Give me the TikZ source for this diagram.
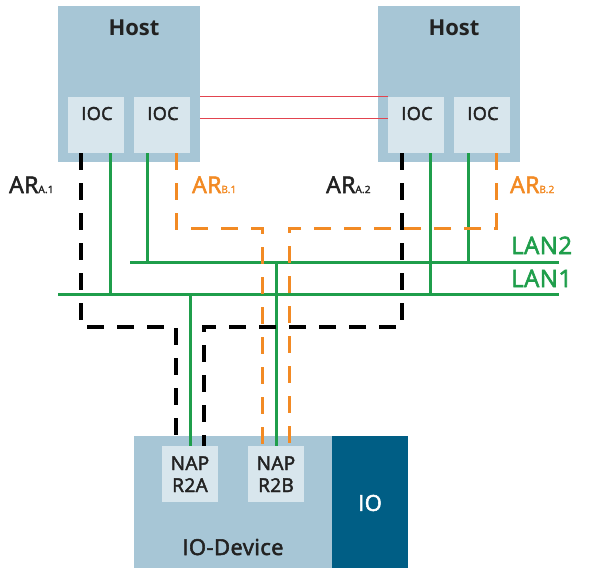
\documentclass[tikz,border=0pt]{standalone}
\usepackage{fontspec}
\setmainfont{Open Sans}
\newfontfamily\medfont{Open Sans}[FakeBold=2.5,LetterSpace=2]
\definecolor{hostblue}{HTML}{A7C6D6}
\definecolor{iocblue}{HTML}{D8E6ED}
\definecolor{iodark}{HTML}{005E85}
\definecolor{langreen}{HTML}{1F9E4B}
\definecolor{arorange}{HTML}{F28A24}
\definecolor{redline}{HTML}{E2444F}
\definecolor{txtdark}{HTML}{222222}
\tikzset{
  box/.style={draw=none, inner sep=0pt, outer sep=0pt, anchor=north west},
  hostbox/.style={box, fill=hostblue, minimum width=142pt, minimum height=156pt},
  iocbox/.style={box, fill=iocblue, minimum width=56pt, minimum height=56pt},
  devbox/.style={box, fill=hostblue, minimum width=198pt, minimum height=132pt},
  iobox/.style={box, fill=iodark, minimum width=76pt, minimum height=132pt},
  lanline/.style={draw=langreen, line width=3pt},
  redwire/.style={draw=redline, line width=1pt},
  blackdash/.style={draw=black, line width=3.2pt, dash pattern=on 17pt off 13pt},
  orangedash/.style={draw=arorange, line width=3pt, dash pattern=on 17pt off 13pt},
  hosttxt/.style={inner sep=0pt, anchor=base, font=\fontsize{22}{22}\selectfont\bfseries, text=txtdark},
  ioctxt/.style={inner sep=0pt, anchor=base, font=\medfont\fontsize{18}{18}\selectfont, text=txtdark},
  artxt/.style={inner sep=0pt, anchor=base west},
  lantxt/.style={inner sep=0pt, anchor=base west, font=\medfont\fontsize{24}{24}\selectfont, text=langreen},
}
\newcommand{\arlab}[2]{{\medfont\fontsize{23}{23}\selectfont AR}{\medfont\fontsize{10}{10}\selectfont #1.#2}}
\begin{document}
\begin{tikzpicture}[x=1pt,y=-1pt]
\useasboundingbox (0,0) rectangle (591,575);
% hosts
\node[hostbox] (hostL) at (58,6) {};
\node[hostbox] (hostR) at (378,6) {};
\node[iocbox] (iocL1) at (68,97) {};
\node[iocbox] (iocL2) at (134,97) {};
\node[iocbox] (iocR1) at (388,97) {};
\node[iocbox] (iocR2) at (454,97) {};
\node[hosttxt] (hostLt) at (134,36) {Host};
\node[hosttxt] (hostRt) at (454,36) {Host};
\node[ioctxt] (iocL1t) at (97,120) {IOC};
\node[ioctxt] (iocL2t) at (163,120) {IOC};
\node[ioctxt] (iocR1t) at (417,120) {IOC};
\node[ioctxt] (iocR2t) at (483,120) {IOC};
% device
\node[devbox] (dev) at (134,436) {};
\node[iobox] (io) at (332,436) {};
\node[iocbox] (napA) at (162,446) {};
\node[iocbox] (napB) at (248,446) {};
\node[ioctxt, align=center, font=\medfont\fontsize{19}{22}\selectfont] (napAt) at (190,492) {NAP\\R2A};
\node[ioctxt, align=center, font=\medfont\fontsize{19}{22}\selectfont] (napBt) at (276,492) {NAP\\R2B};
\node[ioctxt, font=\medfont\fontsize{22}{22}\selectfont] (devt) at (233,555) {IO-Device};
\node[inner sep=0pt, text=white, font=\medfont\fontsize{22}{22}\selectfont] (iot) at (370,503) {IO};
% red wires
\draw[redwire] (iocR1.north west) -- (iocR1.north west -| hostL.east);
\draw[redwire] ([yshift=-22pt]iocR1.north west) -- ([yshift=-22pt]iocR1.north west -| hostL.east);
% LANs
\coordinate (lan1W) at (58,294);
\coordinate (lan1E) at (559,294);
\coordinate (lan2W) at (130,262);
\coordinate (lan2E) at (559,262);
\draw[lanline] (lan1W) -- (lan1E);
\draw[lanline] (lan2W) -- (lan2E);
\draw[lanline] ([xshift=14pt]iocL1.south) -- ([xshift=14pt]iocL1.south |- lan1W);
\draw[lanline] ([xshift=-15pt]iocL2.south) -- ([xshift=-15pt]iocL2.south |- lan2W);
\draw[lanline] ([xshift=14pt]iocR1.south) -- ([xshift=14pt]iocR1.south |- lan1W);
\draw[lanline] ([xshift=-14pt]iocR2.south) -- ([xshift=-14pt]iocR2.south |- lan2W);
\draw[lanline] (napA.north |- lan1W) -- (napA.north);
\draw[lanline] (napB.north |- lan2W) -- (napB.north);
% ARs
\draw[orangedash] ([xshift=14pt]iocL2.south) -- ++(0,75) -| ([xshift=-14pt]napB.north);
\draw[orangedash] ([xshift=14pt]iocR2.south) -- ++(0,75) -| ([xshift=13pt]napB.north);
\draw[blackdash] ([xshift=-15pt]iocL1.south) -- ++(0,174) -| ([xshift=-14pt]napA.north);
\draw[blackdash] ([xshift=-14pt]iocR1.south) -- ++(0,174) -| ([xshift=14pt]napA.north);
% labels
\node[artxt, text=txtdark] (arA1) at (9,193) {\arlab{A}{1}};
\node[artxt, text=arorange] (arB1) at (192,193) {\arlab{B}{1}};
\node[artxt, text=txtdark] (arA2) at (326,193) {\arlab{A}{2}};
\node[artxt, text=arorange] (arB2) at (510,193) {\arlab{B}{2}};
\node[lantxt] (lan2t) at (511,254) {LAN2};
\node[lantxt] (lan1t) at (511,287) {LAN1};
\end{tikzpicture}
\end{document}
